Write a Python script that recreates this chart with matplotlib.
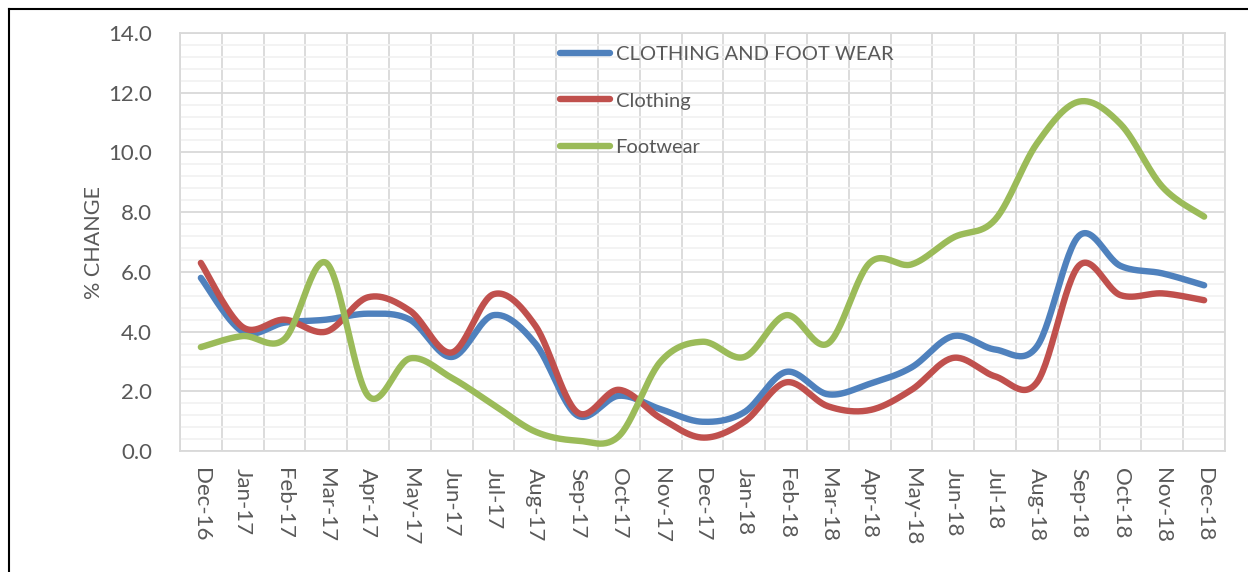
import matplotlib
matplotlib.use("Agg")
import matplotlib.pyplot as plt
import numpy as np
from matplotlib.lines import Line2D

plt.rcParams['font.family'] = ['Lato', 'DejaVu Sans']

# data
months = ["Dec-16", "Jan-17", "Feb-17", "Mar-17", "Apr-17", "May-17", "Jun-17",
          "Jul-17", "Aug-17", "Sep-17", "Oct-17", "Nov-17", "Dec-17", "Jan-18",
          "Feb-18", "Mar-18", "Apr-18", "May-18", "Jun-18", "Jul-18", "Aug-18",
          "Sep-18", "Oct-18", "Nov-18", "Dec-18"]
clothing_footwear = [5.8, 4.0, 4.3, 4.4, 4.6, 4.4, 3.15, 4.55, 3.6, 1.2, 1.85, 1.4,
                     0.98, 1.3, 2.65, 1.9, 2.25, 2.8, 3.85, 3.4, 3.5, 7.2, 6.2, 5.95, 5.55]
clothing = [6.3, 4.15, 4.4, 4.0, 5.15, 4.7, 3.3, 5.25, 4.2, 1.3, 2.05, 1.1,
            0.45, 0.98, 2.3, 1.5, 1.37, 2.05, 3.12, 2.5, 2.3, 6.2, 5.22, 5.28, 5.05]
footwear = [3.48, 3.85, 3.75, 6.3, 1.85, 3.1, 2.45, 1.55, 0.65, 0.35, 0.5, 3.0,
            3.66, 3.15, 4.55, 3.6, 6.3, 6.25, 7.15, 7.75, 10.3, 11.7, 10.95, 8.85, 7.85]
series_names = ["CLOTHING AND FOOT WEAR", "Clothing", "Footwear"]
colors = ["#4F81BD", "#C0504D", "#9BBB59"]


def smooth(x, y, n=30):
    # Excel-style smoothed line: cubic bezier through points (Catmull-Rom)
    x = np.asarray(x, float)
    y = np.asarray(y, float)
    px = np.concatenate(([x[0]], x, [x[-1]]))
    py = np.concatenate(([y[0]], y, [y[-1]]))
    xs, ys = [], []
    t = np.linspace(0, 1, n)
    for i in range(1, len(px) - 2):
        p0 = np.array([px[i], py[i]])
        p3 = np.array([px[i + 1], py[i + 1]])
        c1 = p0 + (np.array([px[i + 1], py[i + 1]]) - np.array([px[i - 1], py[i - 1]])) / 6
        c2 = p3 - (np.array([px[i + 2], py[i + 2]]) - np.array([px[i], py[i]])) / 6
        b = ((1 - t) ** 3)[:, None] * p0 + (3 * (1 - t) ** 2 * t)[:, None] * c1 \
            + (3 * (1 - t) * t ** 2)[:, None] * c2 + (t ** 3)[:, None] * p3
        xs.append(b[:, 0])
        ys.append(b[:, 1])
    return np.concatenate(xs), np.concatenate(ys)


fig = plt.figure(figsize=(12.48, 5.72), dpi=100)
ax = fig.add_axes([0.1442, 0.2115, 0.8374, 0.7308])

x = np.arange(len(months))
for vals, name, c in zip([clothing_footwear, clothing, footwear], series_names, colors):
    sx, sy = smooth(x, vals)
    ax.plot(sx, sy, color=c, lw=4.6, solid_capstyle='round', label=name, zorder=3)

ax.set_xlim(-0.5, len(months) - 0.5)
ax.set_ylim(0, 14)
ax.set_yticks(np.arange(0, 14.1, 2))
ax.set_yticklabels([f"{v:.1f}" for v in np.arange(0, 14.1, 2)])
ax.set_yticks(np.arange(0, 14.01, 0.4), minor=True)
ax.set_xticks(x)
ax.set_xticklabels(months, rotation=-90)
ax.set_xticks(np.arange(-0.5, len(months), 1), minor=True)

ax.grid(which='major', axis='y', color='#D9D9D9', lw=1.3, zorder=0)
ax.grid(which='minor', axis='y', color='#F2F2F2', lw=1.3, zorder=0)
ax.grid(which='minor', axis='x', color='#D9D9D9', lw=1.3, zorder=0)
ax.set_axisbelow(True)
ax.tick_params(which='both', length=0)
ax.tick_params(axis='y', labelsize=16, labelcolor='#595959', pad=20)
ax.tick_params(axis='x', labelsize=16, labelcolor='#595959', pad=12)
for s in ax.spines.values():
    s.set_color('#D9D9D9')
    s.set_linewidth(1.3)

ax.set_ylabel("% CHANGE", fontsize=15.5, color='#595959', labelpad=3)

leg = ax.legend(loc='upper left', bbox_to_anchor=(542 / 1248, 1 - 28 / 572),
                bbox_transform=fig.transFigure, frameon=False, fontsize=14.5,
                labelcolor='#595959', handlelength=2.5, handletextpad=0.25,
                labelspacing=1.45)
for h in leg.get_lines():
    h.set_linewidth(4.6)

# outer chart border
fig.add_artist(Line2D([9 / 1248, 9 / 1248], [0, 1 - 9 / 572], color='black', lw=1.5,
                      transform=fig.transFigure))
fig.add_artist(Line2D([9 / 1248, 1], [1 - 9 / 572, 1 - 9 / 572], color='black', lw=1.5,
                      transform=fig.transFigure))

fig.savefig("out.png", dpi=100)
